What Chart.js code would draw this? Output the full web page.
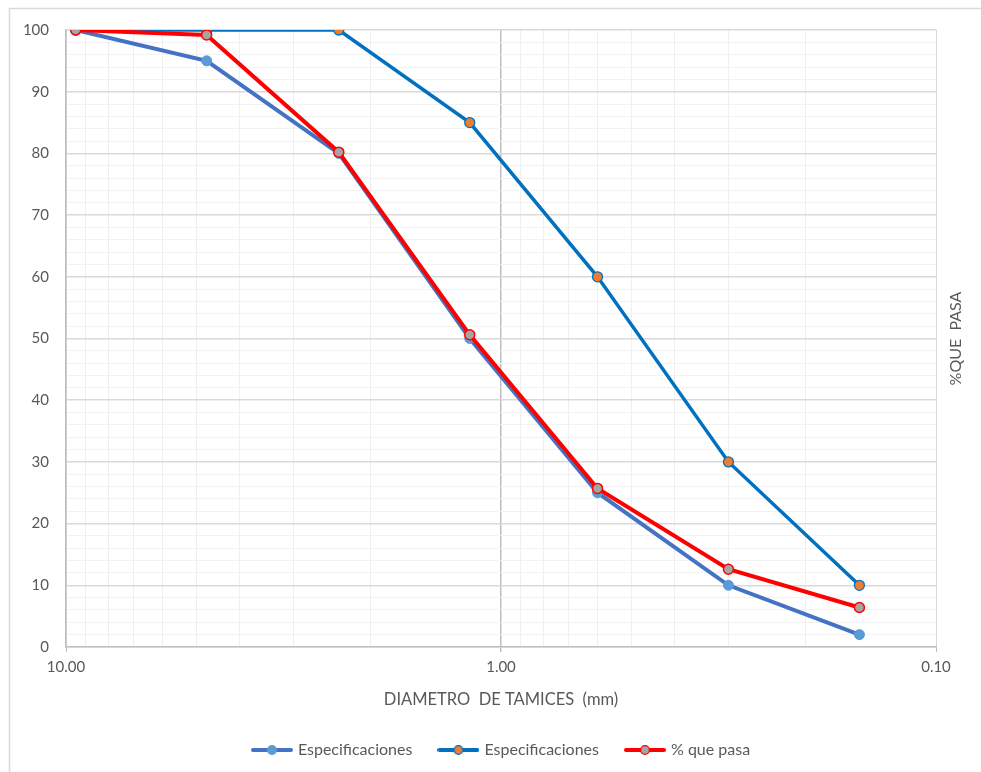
<!DOCTYPE html>
<html>
<head>
<meta charset="utf-8">
<script src="https://cdn.jsdelivr.net/npm/chart.js@4.4.1/dist/chart.umd.min.js"></script>
<style>
  html, body { margin: 0; padding: 0; background: #fff; }
  #wrap { width: 981px; height: 772px; position: relative; }
</style>
</head>
<body>
<div id="wrap"><canvas id="granChart"></canvas></div>
<script>
// abertura de tamices (mm)
const tamices = [9.5, 4.75, 2.36, 1.18, 0.6, 0.3, 0.15];
// especificaciones (limite inferior y superior) y % que pasa
const especInferior = [100, 95, 80, 50, 25, 10, 2];
const especSuperior = [100, 100, 100, 85, 60, 30, 10];
const porcentajePasa = [100, 99.2, 80.2, 50.6, 25.7, 12.6, 6.4];
const nombres = ['Especificaciones', 'Especificaciones', '% que pasa'];
const xTickLabels = { 10: '10.00', 1: '1.00', 0.1: '0.10' };

const FONT = 'Lato, "Open Sans", sans-serif';
const TEXT = '#595959';

function puntos(valores) {
    return tamices.map((t, i) => ({ x: t, y: valores[i] }));
}

// iconos de leyenda: linea + marcador
function iconoLeyenda(linea, relleno, borde) {
    const c = document.createElement('canvas');
    c.width = 42; c.height = 12;
    const g = c.getContext('2d');
    g.strokeStyle = linea;
    g.lineWidth = 4;
    g.lineCap = 'round';
    g.beginPath(); g.moveTo(2, 6); g.lineTo(40, 6); g.stroke();
    g.beginPath(); g.arc(21, 6, 4.4, 0, Math.PI * 2);
    g.fillStyle = relleno; g.fill();
    g.lineWidth = 1.3; g.strokeStyle = borde; g.stroke();
    return c;
}
const iconos = [
    iconoLeyenda('#4472C4', '#5B9BD5', '#5B9BD5'),
    iconoLeyenda('#0070C0', '#ED7D31', '#0070C0'),
    iconoLeyenda('#FF0000', '#A5A5A5', '#FF0000')
];

function esMayor(v) {
    const l = Math.log10(v);
    return Math.abs(l - Math.round(l)) < 1e-9;
}

// borde exterior, leyenda centrada en todo el ancho y titulo del eje Y
const extras = {
    id: 'extras',
    afterLayout(chart) {
        // la leyenda del original esta centrada sobre el ancho completo
        chart.legend.left += 34;
        chart.legend.right += 34;
    },
    beforeDraw(chart) {
        const ctx = chart.ctx;
        ctx.save();
        ctx.fillStyle = '#fff';
        ctx.fillRect(0, 0, chart.width, chart.height);
        ctx.strokeStyle = '#D9D9D9';
        ctx.lineWidth = 1.5;
        ctx.beginPath();
        ctx.moveTo(9.5, chart.height);
        ctx.lineTo(9.5, 8.5);
        ctx.lineTo(chart.width, 8.5);
        ctx.stroke();
        ctx.restore();
    },
    afterDraw(chart) {
        const ctx = chart.ctx;
        const a = chart.chartArea;
        ctx.save();
        ctx.translate(956, (a.top + a.bottom) / 2);
        ctx.rotate(-Math.PI / 2);
        ctx.fillStyle = TEXT;
        ctx.font = '16px ' + FONT;
        ctx.textAlign = 'center';
        ctx.textBaseline = 'middle';
        ctx.fillText('%QUE  PASA', 0, 0);
        ctx.restore();
    }
};

const ctx = document.getElementById('granChart').getContext('2d');
new Chart(ctx, {
    type: 'line',
    data: {
        datasets: [
            {
                label: nombres[0],
                data: puntos(especInferior),
                borderColor: '#4472C4',
                borderWidth: 4,
                pointRadius: 5,
                pointBackgroundColor: '#5B9BD5',
                pointBorderColor: '#5B9BD5',
                pointBorderWidth: 1,
                order: 3
            },
            {
                label: nombres[1],
                data: puntos(especSuperior),
                borderColor: '#0070C0',
                borderWidth: 3.5,
                pointRadius: 5,
                pointBackgroundColor: '#ED7D31',
                pointBorderColor: '#0070C0',
                pointBorderWidth: 1.3,
                order: 2
            },
            {
                label: nombres[2],
                data: puntos(porcentajePasa),
                borderColor: '#FF0000',
                borderWidth: 4,
                pointRadius: 5,
                pointBackgroundColor: '#A5A5A5',
                pointBorderColor: '#FF0000',
                pointBorderWidth: 1.5,
                order: 1
            }
        ]
    },
    options: {
        responsive: true,
        maintainAspectRatio: false,
        animation: false,
        layout: { padding: { top: 30, right: 45, left: 0, bottom: 4 } },
        plugins: {
            tooltip: { enabled: false },
            legend: {
                position: 'bottom',
                labels: {
                    color: TEXT,
                    font: { family: FONT, size: 16 },
                    usePointStyle: true,
                    pointStyleWidth: 36,
                    padding: 28,
                    sort: (a, b) => a.datasetIndex - b.datasetIndex,
                    generateLabels(chart) {
                        const items = Chart.defaults.plugins.legend.labels.generateLabels(chart);
                        items.forEach(it => { it.pointStyle = iconos[it.datasetIndex]; });
                        return items;
                    }
                }
            }
        },
        scales: {
            x: {
                type: 'logarithmic',
                reverse: true,
                min: 0.1,
                max: 10,
                afterBuildTicks(scale) {
                    const t = [];
                    [0.1, 1].forEach(d => {
                        for (let k = 1; k <= 9; k++) t.push({ value: Math.round(k * d * 10) / 10 });
                    });
                    t.push({ value: 10 });
                    scale.ticks = t;
                },
                afterFit(scale) { scale.height = 67; },
                ticks: {
                    autoSkip: false,
                    maxRotation: 0,
                    color: TEXT,
                    font: { family: FONT, size: 15 },
                    padding: 6,
                    callback(v) {
                        if (!esMayor(v)) return '';
                        return xTickLabels[Math.round(v * 10) / 10];
                    }
                },
                grid: {
                    color: c => {
                        const v = c.tick ? c.tick.value : 0;
                        if (Math.abs(v - 1) < 1e-9) return '#BFBFBF';
                        return esMayor(v) ? '#D9D9D9' : '#EFEFEF';
                    },
                    lineWidth: c => (c.tick && Math.abs(c.tick.value - 1) < 1e-9) ? 1.5 : 1,
                    tickColor: c => (c.tick && esMayor(c.tick.value)) ? '#BFBFBF' : 'rgba(0,0,0,0)',
                    tickLength: 5
                },
                border: { color: '#BFBFBF', width: 1.5 },
                title: {
                    display: true,
                    text: 'DIAMETRO  DE TAMICES  (mm)',
                    color: TEXT,
                    font: { family: FONT, size: 16.5 },
                    padding: { top: 6, bottom: 4 }
                }
            },
            y: {
                min: 0,
                max: 100,
                afterFit(scale) { scale.width = 66; },
                ticks: {
                    stepSize: 2,
                    autoSkip: false,
                    color: TEXT,
                    font: { family: FONT, size: 15 },
                    padding: 17,
                    callback: v => (Math.round(v) % 10 === 0 ? String(Math.round(v)) : '')
                },
                grid: {
                    color: c => (c.tick && Math.round(c.tick.value) % 10 === 0) ? '#D9D9D9' : '#F2F2F2',
                    lineWidth: c => (c.tick && Math.round(c.tick.value) % 10 === 0) ? 1.5 : 1,
                    drawTicks: false
                },
                border: { color: '#BFBFBF', width: 1.5 }
            }
        }
    },
    plugins: [extras]
});
</script>
</body>
</html>
